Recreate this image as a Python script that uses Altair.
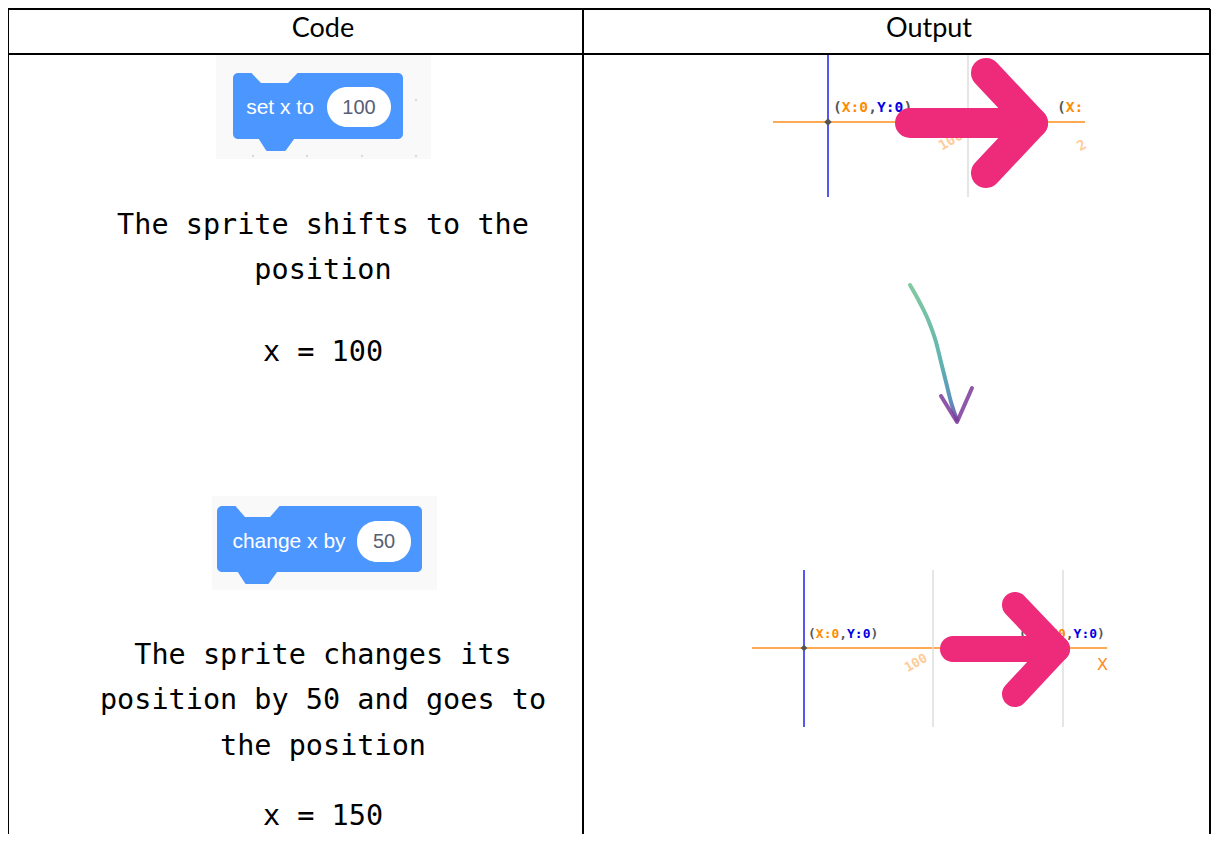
import altair as alt
import pandas as pd

# ------------------------------------------------------------------
# Data units = pixels of the reference picture (x right, y down)
# ------------------------------------------------------------------
X_DOMAIN = [8, 1211]
Y_DOMAIN = [8, 834]

# table grid
rule_x = [8, 8, 8, 583, 1210]
rule_y = [9, 54, 9, 9, 9]
rule_x2 = [1210, 1210, 8, 583, 1210]
rule_y2 = [9, 54, 847, 847, 847]

# header cells
header_text = ["Code", "Output"]
header_x = [323, 929]
header_y = [29, 29]

# body text (left column)
body_text = ["The sprite shifts to the", "position", "x = 100",
             "The sprite changes its", "position by 50 and goes to",
             "the position", "x = 150"]
body_x = [323, 323, 323, 323, 323, 323, 323]
body_y = [225, 270, 352, 655, 700, 746, 816]

# scratch block backgrounds (workspace)
ws_x = [216, 212]
ws_x2 = [431, 437]
ws_y = [55, 496]
ws_y2 = [159, 590]
ws_dot_x = [253, 307, 362, 416, 416]
ws_dot_y = [156, 156, 156, 156, 100]

# block bodies
blk_x = [233, 217]
blk_x2 = [403, 422]
blk_y = [73, 506]
blk_y2 = [139, 572]
# notch (top, workspace colour) and tab (bottom, blue): x / y2 outline
notch_id = ["n1"] * 4 + ["n2"] * 4
notch_x = [251, 261, 288, 298, 235, 245, 270, 280]
notch_top = [71, 71, 71, 71, 504, 504, 504, 504]
notch_bot = [72.5, 83, 83, 72.5, 505.5, 517, 517, 505.5]
tab_id = ["t1"] * 4 + ["t2"] * 4
tab_x = [259, 267, 285, 294, 238, 246, 268, 277]
tab_top = [137, 137, 137, 137, 570, 570, 570, 570]
tab_bot = [137.5, 150, 150, 137.5, 570.5, 583, 583, 570.5]
# oval inputs
oval_x = [327, 357]
oval_x2 = [391, 411]
oval_y = [87, 521]
oval_y2 = [127, 562]
oval_text = ["100", "50"]
oval_tx = [359, 384]
oval_ty = [108, 542]
blk_text = ["set x to", "change x by"]
blk_tx = [280, 289]
blk_ty = [108, 542]

# output panels: axis lines
ax_color = ["orange", "blue", "gray", "orange", "blue", "gray", "gray"]
ax_x = [773, 828, 968, 752, 804, 933, 1063]
ax_x2 = [1085, 828, 968, 1107, 804, 933, 1063]
ax_y = [122, 55, 55, 648, 570, 570, 570]
ax_y2 = [122, 197, 197, 648, 727, 727, 727]
origin_x = [828, 804]
origin_y = [122, 648]
origin_size = [55, 45]

# coordinate labels: (start x, y, char width, font size, segments)
label_start_x = [833, 1057, 808, 1019]
label_y = [108, 108, 634, 634]
label_cw = [8.8, 8.8, 7.8, 7.8]
label_fs = [14.6, 14.6, 13, 13]
label_parts = [
    [("(", "g"), ("X:0", "o"), (",", "g"), ("Y:0", "b"), (")", "g")],
    [("(", "g"), ("X:", "o")],
    [("(", "g"), ("X:0", "o"), (",", "g"), ("Y:0", "b"), (")", "g")],
    [("(", "g"), ("X:150", "o"), (",", "g"), ("Y:0", "b"), (")", "g")],
]
# faded tick labels (rotated)
tick_text = ["100", "2", "100"]
tick_x = [951, 1082, 916]
tick_y = [141, 146, 663]
tick_fs = [14, 14, 13]
# orange axis name
axname_text = ["X"]
axname_x = [1097]
axname_y = [665]

# pink arrows: polylines
arr_id = ["a1s", "a1s", "a1h", "a1h", "a1h", "a2s", "a2s", "a2h", "a2h", "a2h"]
arr_x = [910, 1033, 986, 1033, 986, 953, 1057, 1015, 1057, 1015]
arr_y = [123, 123, 73, 123, 173, 649, 649, 605, 649, 694]
arr_w = [30, 30, 30, 30, 30, 26, 26, 26, 26, 26]

# hand drawn arrow
curve_x = [910, 920, 929, 936, 941, 946, 951, 957]
curve_y = [285, 303, 322, 342, 362, 382, 402, 420]
head_x = [941, 957, 972]
head_y = [396, 422, 388]

# ------------------------------------------------------------------
XS = alt.Scale(domain=X_DOMAIN, nice=False, zero=False)
YS = alt.Scale(domain=Y_DOMAIN, nice=False, zero=False, reverse=True)


def X(f="x"):
    return alt.X(f"{f}:Q", scale=XS, axis=None)


def Y(f="y"):
    return alt.Y(f"{f}:Q", scale=YS, axis=None)


BLUE = "#4C97FF"
WS = "#F9F9F9"
PINK = "#EE2A7B"
COLS = {"orange": "#FF8C1A", "blue": "#1F1FF0", "gray": "#DEDEDE"}
LCOLS = {"g": "#575757", "o": "#FF8C00", "b": "#0000E6"}

layers = []

# table rules
df_rules = pd.DataFrame({"x": rule_x, "y": rule_y, "x2": rule_x2, "y2": rule_y2})
layers.append(alt.Chart(df_rules).mark_rule(color="black", strokeWidth=2, clip=True).encode(
    x=X(), y=Y(), x2="x2:Q", y2="y2:Q"))

# header texts
df_h = pd.DataFrame({"x": header_x, "y": header_y, "t": header_text})
layers.append(alt.Chart(df_h).mark_text(font="Lato", fontSize=27, color="black",
                                        baseline="middle", align="center").encode(
    x=X(), y=Y(), text="t:N"))

# body texts
df_b = pd.DataFrame({"x": body_x, "y": body_y, "t": body_text})
layers.append(alt.Chart(df_b).mark_text(font="DejaVu Sans Mono", fontSize=28.5, color="black",
                                        baseline="middle", align="center").encode(
    x=X(), y=Y(), text="t:N"))

# workspace bg
df_ws = pd.DataFrame({"x": ws_x, "x2": ws_x2, "y": ws_y, "y2": ws_y2})
layers.append(alt.Chart(df_ws).mark_rect(color=WS).encode(x=X(), x2="x2:Q", y=Y(), y2="y2:Q"))
df_dots = pd.DataFrame({"x": ws_dot_x, "y": ws_dot_y})
layers.append(alt.Chart(df_dots).mark_point(filled=True, color="#DCDCDC", size=6, opacity=1).encode(
    x=X(), y=Y()))

# block bodies
df_blk = pd.DataFrame({"x": blk_x, "x2": blk_x2, "y": blk_y, "y2": blk_y2})
layers.append(alt.Chart(df_blk).mark_rect(color=BLUE, cornerRadius=5).encode(
    x=X(), x2="x2:Q", y=Y(), y2="y2:Q"))
df_notch = pd.DataFrame({"id": notch_id, "x": notch_x, "y": notch_top, "y2": notch_bot})
layers.append(alt.Chart(df_notch).mark_area(color=WS, interpolate="linear").encode(
    x=X(), y=Y(), y2="y2:Q", detail="id:N"))
df_tab = pd.DataFrame({"id": tab_id, "x": tab_x, "y": tab_top, "y2": tab_bot})
layers.append(alt.Chart(df_tab).mark_area(color=BLUE, interpolate="linear", stroke=BLUE,
                                          strokeWidth=2, strokeJoin="round").encode(
    x=X(), y=Y(), y2="y2:Q", detail="id:N"))
df_oval = pd.DataFrame({"x": oval_x, "x2": oval_x2, "y": oval_y, "y2": oval_y2})
layers.append(alt.Chart(df_oval).mark_rect(color="white", cornerRadius=20).encode(
    x=X(), x2="x2:Q", y=Y(), y2="y2:Q"))
df_ot = pd.DataFrame({"x": oval_tx, "y": oval_ty, "t": oval_text})
layers.append(alt.Chart(df_ot).mark_text(font="Liberation Sans", fontSize=20, color="#575E75",
                                         baseline="middle", align="center").encode(
    x=X(), y=Y(), text="t:N"))
df_bt = pd.DataFrame({"x": blk_tx, "y": blk_ty, "t": blk_text})
layers.append(alt.Chart(df_bt).mark_text(font="Liberation Sans", fontSize=21, color="white",
                                         baseline="middle", align="center").encode(
    x=X(), y=Y(), text="t:N"))

# output panels: axes
df_ax = pd.DataFrame({"x": ax_x, "x2": ax_x2, "y": ax_y, "y2": ax_y2,
                      "c": [COLS[c] for c in ax_color]})
layers.append(alt.Chart(df_ax).mark_rule(strokeWidth=1.5).encode(
    x=X(), y=Y(), x2="x2:Q", y2="y2:Q", color=alt.Color("c:N", scale=None)))
df_or = pd.DataFrame({"x": origin_x, "y": origin_y, "s": origin_size})
layers.append(alt.Chart(df_or).mark_point(shape="diamond", filled=True, color="#555555", opacity=1).encode(
    x=X(), y=Y(), size=alt.Size("s:Q", scale=None)))

# faded tick labels
df_tk = pd.DataFrame({"x": tick_x, "y": tick_y, "t": tick_text, "fs": tick_fs})
layers.append(alt.Chart(df_tk).mark_text(font="DejaVu Sans Mono", fontWeight="bold", color="#FFCB99",
                                         angle=330, baseline="middle", align="center").encode(
    x=X(), y=Y(), text="t:N", size=alt.Size("fs:Q", scale=None)))

# coordinate labels
rows = []
for sx, yy, cw, fs, parts in zip(label_start_x, label_y, label_cw, label_fs, label_parts):
    k = 0
    for txt, col in parts:
        rows.append({"x": sx + k * cw, "y": yy, "t": txt, "c": LCOLS[col], "fs": fs})
        k += len(txt)
df_lab = pd.DataFrame(rows)
layers.append(alt.Chart(df_lab).mark_text(font="DejaVu Sans Mono", fontWeight="bold",
                                          baseline="middle", align="left").encode(
    x=X(), y=Y(), text="t:N", color=alt.Color("c:N", scale=None),
    size=alt.Size("fs:Q", scale=None)))
df_axn = pd.DataFrame({"x": axname_x, "y": axname_y, "t": axname_text})
layers.append(alt.Chart(df_axn).mark_text(font="DejaVu Sans", fontSize=16, color="#FF8C1A",
                                          baseline="middle", align="left").encode(
    x=X(), y=Y(), text="t:N"))

# pink arrows
df_arr = pd.DataFrame({"id": arr_id, "x": arr_x, "y": arr_y, "w": arr_w,
                       "i": list(range(len(arr_x)))})
for aid in ["a1s", "a1h", "a2s", "a2h"]:
    sub = df_arr[df_arr["id"] == aid]
    layers.append(alt.Chart(sub).mark_line(color=PINK, strokeWidth=float(sub["w"].iloc[0]),
                                           strokeCap="round", strokeJoin="round").encode(
        x=X(), y=Y(), order="i:Q"))

# hand drawn arrow with gradient stroke
grad = alt.Gradient(gradient="linear",
                    stops=[alt.GradientStop(color="#6CC08E", offset=0),
                           alt.GradientStop(color="#45A8A2", offset=0.55),
                           alt.GradientStop(color="#3F7FB0", offset=0.85),
                           alt.GradientStop(color="#6A3D98", offset=1)],
                    x1=0, x2=0, y1=0, y2=1)
df_curve = pd.DataFrame({"x": curve_x, "y": curve_y, "i": list(range(len(curve_x)))})
layers.append(alt.Chart(df_curve).mark_line(color=grad, strokeWidth=4, strokeCap="round",
                                            opacity=0.85, interpolate="monotone").encode(
    x=X(), y=Y(), order="i:Q"))
df_head = pd.DataFrame({"x": head_x, "y": head_y, "i": list(range(len(head_x)))})
layers.append(alt.Chart(df_head).mark_line(color="#7A3A98", strokeWidth=4, strokeCap="round",
                                           strokeJoin="round", opacity=0.85).encode(
    x=X(), y=Y(), order="i:Q"))

chart = alt.layer(*layers).properties(
    width=X_DOMAIN[1] - X_DOMAIN[0],
    height=Y_DOMAIN[1] - Y_DOMAIN[0],
    padding=0,
    autosize=alt.AutoSizeParams(type="none"),
    background="white",
).configure_view(stroke=None)

chart.save("out.html", embed_options={"renderer": "svg", "actions": False})
